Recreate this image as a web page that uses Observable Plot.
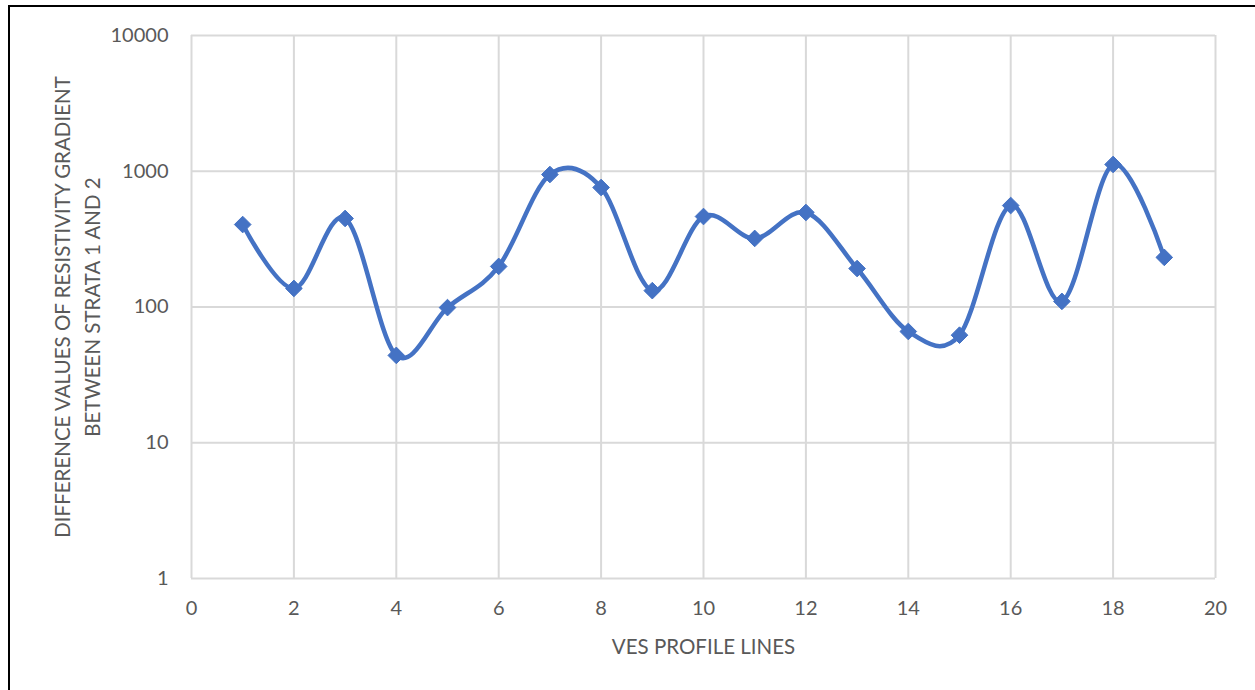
<!DOCTYPE html>
<html>
<head>
<meta charset="utf-8">
<script src="https://cdn.jsdelivr.net/npm/d3@7"></script>
<script src="https://cdn.jsdelivr.net/npm/@observablehq/plot@0.6"></script>
<style>
  html, body { margin: 0; padding: 0; background: #fff; overflow: hidden; }
  #frame { position: absolute; left: 8px; top: 5px; width: 1300px; height: 760px; border: 2px solid #000; box-sizing: border-box; }
  #chart { position: absolute; left: 0; top: 0; }
</style>
</head>
<body>
<div id="frame"></div>
<div id="chart"></div>
<script>
const profileLines = [1, 2, 3, 4, 5, 6, 7, 8, 9, 10, 11, 12, 13, 14, 15, 16, 17, 18, 19];
const gradientDiff = [405, 137, 449, 44, 99, 199, 946, 759, 132, 464, 320, 497, 192, 66, 62, 559, 110, 1122, 232];
const xTicks = [0, 2, 4, 6, 8, 10, 12, 14, 16, 18, 20];
const yTicks = [1, 10, 100, 1000, 10000];
const xLabel = "VES PROFILE LINES";
const yLabel = "DIFFERENCE VALUES OF RESISTIVITY GRADIENT\nBETWEEN STRATA 1 AND 2";

const data = profileLines.map((x, i) => ({x, y: gradientDiff[i]}));
const blue = "#4472C4";
const grid = "#d9d9d9";
const textColor = "#595959";

const chart = Plot.plot({
  width: 1255,
  height: 690,
  marginLeft: 191,
  marginRight: 40,
  marginTop: 35,
  marginBottom: 112,
  style: {fontFamily: "Lato, 'Open Sans', sans-serif", fontSize: "20px", color: textColor, background: "transparent"},
  x: {domain: [0, 20], ticks: xTicks, tickSize: 0, tickPadding: 22, label: null},
  y: {type: "log", domain: [1, 10000], ticks: yTicks, tickFormat: d => String(d), tickSize: 0, tickPadding: 23, label: null},
  marks: [
    Plot.gridX(xTicks, {stroke: grid, strokeOpacity: 1, strokeWidth: 2}),
    Plot.gridY(yTicks, {stroke: grid, strokeOpacity: 1, strokeWidth: 2}),
    Plot.axisX({ticks: xTicks, tickSize: 0, tickPadding: 22, fill: textColor, fontSize: 20}),
    Plot.axisY({ticks: yTicks, tickFormat: d => String(d), tickSize: 0, tickPadding: 23, fill: textColor, fontSize: 20}),
    Plot.text([xLabel], {frameAnchor: "bottom", dy: 75, textAnchor: "middle", fill: textColor, fontSize: 20.5}),
    Plot.text([yLabel], {frameAnchor: "left", rotate: -90, dx: -116, textAnchor: "middle", lineHeight: 1.45, fill: textColor, fontSize: 20.5}),
    Plot.line(data, {x: "x", y: "y", curve: "cardinal", tension: 0, stroke: blue, strokeWidth: 4.5}),
    Plot.dot(data, {x: "x", y: "y", symbol: "diamond2", r: 7.5, fill: blue, stroke: blue, strokeWidth: 1})
  ]
});
document.getElementById("chart").appendChild(chart);
</script>
</body>
</html>
